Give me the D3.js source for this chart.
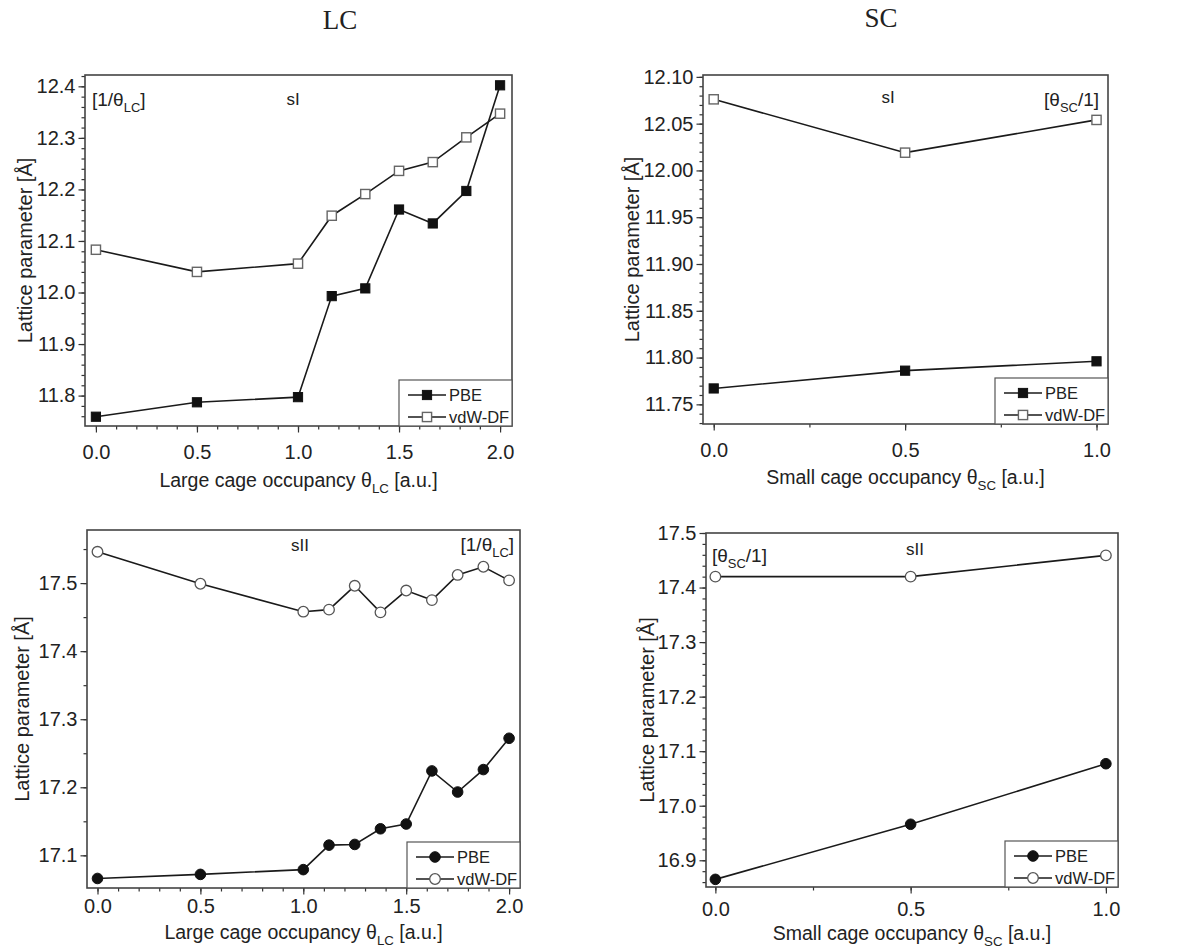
<!DOCTYPE html>
<html>
<head>
<meta charset="utf-8">
<script src="https://cdn.jsdelivr.net/npm/d3@7"></script>
<style>
  body { margin: 0; background: #fff; }
  svg { display: block; }
  text { font-family: "Liberation Sans", Arial, sans-serif; fill: #222; }
</style>
</head>
<body>
<svg id="chart" width="1203" height="952"></svg>
<script>
// sI, large cage occupancy
const xLC_sI = [0, 0.5, 1.0, 1.167, 1.333, 1.5, 1.667, 1.833, 2.0];
const pbeLC_sI = [11.759, 11.787, 11.797, 11.993, 12.008, 12.161, 12.134, 12.197, 12.402];
const vdwLC_sI = [12.083, 12.040, 12.056, 12.149, 12.191, 12.236, 12.253, 12.301, 12.347];

// sI, small cage occupancy
const xSC = [0, 0.5, 1.0];
const pbeSC_sI = [11.767, 11.786, 11.796];
const vdwSC_sI = [12.076, 12.019, 12.054];

// sII, large cage occupancy
const xLC_sII = [0, 0.5, 1.0, 1.125, 1.25, 1.375, 1.5, 1.625, 1.75, 1.875, 2.0];
const pbeLC_sII = [17.066, 17.072, 17.079, 17.115, 17.116, 17.139, 17.146, 17.224, 17.193, 17.226, 17.272];
const vdwLC_sII = [17.546, 17.499, 17.458, 17.461, 17.496, 17.457, 17.489, 17.475, 17.512, 17.524, 17.504];

// sII, small cage occupancy
const pbeSC_sII = [16.865, 16.966, 17.077];
const vdwSC_sII = [17.420, 17.420, 17.459];

// tick labels
const xTicksLC = [0, 0.5, 1.0, 1.5, 2.0];
const xTicksSC = [0, 0.5, 1.0];
const yTicks1 = [11.8, 11.9, 12.0, 12.1, 12.2, 12.3, 12.4];
const yTicks2 = [11.75, 11.80, 11.85, 11.90, 11.95, 12.00, 12.05, 12.10];
const yTicks3 = [17.1, 17.2, 17.3, 17.4, 17.5];
const yTicks4 = [16.9, 17.0, 17.1, 17.2, 17.3, 17.4, 17.5];

const seriesNames = ["PBE", "vdW-DF"];

const svg = d3.select("#chart");

// column headings
svg.append("text").attr("x", 340).attr("y", 29)
    .attr("text-anchor", "middle")
    .style("font-family", "'Liberation Serif', 'Times New Roman', serif")
    .style("font-size", "27px").text("LC");
svg.append("text").attr("x", 881).attr("y", 27)
    .attr("text-anchor", "middle")
    .style("font-family", "'Liberation Serif', 'Times New Roman', serif")
    .style("font-size", "27px").text("SC");

const panels = [
    {
        box: {left: 85, top: 75, right: 512, bottom: 426},
        xDomain: [-0.054, 2.059], yDomain: [11.741, 12.422],
        xs: xLC_sI, pbe: pbeLC_sI, vdw: vdwLC_sI,
        xTicks: xTicksLC, xMinor: 0.1, yTicks: yTicks1, yMinor: 0.02, yFmt: ".1f",
        marker: "square",
        xLabel: ["Large cage occupancy θ", "LC", " [a.u.]"], xLabelY: 487, tickPad: 12,
        yLabelX: 32,
        notes: [
            {x: 92, y: 106, anchor: "start", parts: ["[1/θ", "LC", "]"]},
            {x: 293, y: 105, anchor: "middle", parts: ["sI"], small: true}
        ]
    },
    {
        box: {left: 703, top: 75, right: 1108, bottom: 424},
        xDomain: [-0.028, 1.03], yDomain: [11.729, 12.102],
        xs: xSC, pbe: pbeSC_sI, vdw: vdwSC_sI,
        xTicks: xTicksSC, xMinor: 0.25, yTicks: yTicks2, yMinor: 0.01, yFmt: ".2f",
        marker: "square",
        xLabel: ["Small cage occupancy θ", "SC", " [a.u.]"], xLabelY: 484, tickPad: 12,
        yLabelX: 639,
        notes: [
            {x: 888, y: 103, anchor: "middle", parts: ["sI"], small: true},
            {x: 1099, y: 106, anchor: "end", parts: ["[θ", "SC", "/1]"]}
        ]
    },
    {
        box: {left: 87, top: 530, right: 520, bottom: 888},
        xDomain: [-0.051, 2.053], yDomain: [17.052, 17.578],
        xs: xLC_sII, pbe: pbeLC_sII, vdw: vdwLC_sII,
        xTicks: xTicksLC, xMinor: 0.1, yTicks: yTicks3, yMinor: 0.05, yFmt: ".1f",
        marker: "circle",
        xLabel: ["Large cage occupancy θ", "LC", " [a.u.]"], xLabelY: 939, tickPad: 4,
        yLabelX: 29,
        notes: [
            {x: 300, y: 551, anchor: "middle", parts: ["sII"], small: true},
            {x: 514, y: 551, anchor: "end", parts: ["[1/θ", "LC", "]"]}
        ]
    },
    {
        box: {left: 706, top: 533, right: 1118, bottom: 887},
        xDomain: [-0.024, 1.031], yDomain: [16.851, 17.5],
        xs: xSC, pbe: pbeSC_sII, vdw: vdwSC_sII,
        xTicks: xTicksSC, xMinor: 0.25, yTicks: yTicks4, yMinor: 0.02, yFmt: ".1f",
        marker: "circle",
        xLabel: ["Small cage occupancy θ", "SC", " [a.u.]"], xLabelY: 940, tickPad: 8,
        yLabelX: 654,
        notes: [
            {x: 712, y: 562, anchor: "start", parts: ["[θ", "SC", "/1]"]},
            {x: 915, y: 555, anchor: "middle", parts: ["sII"], small: true}
        ]
    }
];

// text with a subscript in the middle part
function subText(sel, parts, size) {
    parts.forEach((p, i) => {
        const t = sel.append("tspan").text(p);
        if (i === 1) t.style("font-size", (size * 0.68) + "px").attr("dy", size * 0.3);
        if (i === 2) t.attr("dy", -size * 0.3);
    });
}

function drawMarker(g, type, cx, cy, filled) {
    if (type === "square") {
        g.append("rect")
            .attr("x", cx - 4.6).attr("y", cy - 4.6)
            .attr("width", 9.2).attr("height", 9.2)
            .attr("fill", filled ? "#111" : "#fff")
            .attr("stroke", filled ? "#111" : "#666")
            .attr("stroke-width", filled ? 1 : 1.4);
    } else {
        g.append("circle")
            .attr("cx", cx).attr("cy", cy).attr("r", 5.3)
            .attr("fill", filled ? "#111" : "#fff")
            .attr("stroke", filled ? "#111" : "#555")
            .attr("stroke-width", filled ? 1 : 1.3);
    }
}

panels.forEach(p => {
    const b = p.box;
    const x = d3.scaleLinear().domain(p.xDomain).range([b.left, b.right]);
    const y = d3.scaleLinear().domain(p.yDomain).range([b.bottom, b.top]);

    const g = svg.append("g");

    // minor ticks
    const xMinorVals = d3.range(0, p.xDomain[1], p.xMinor).filter(v => v >= 0);
    const yMinorVals = d3.range(Math.ceil(p.yDomain[0] / p.yMinor) * p.yMinor, p.yDomain[1], p.yMinor);

    g.append("g")
        .attr("transform", `translate(0,${b.bottom})`)
        .call(d3.axisBottom(x).tickValues(xMinorVals).tickSize(3.5).tickFormat(""))
        .call(a => a.select(".domain").remove());
    g.append("g")
        .attr("transform", `translate(${b.left},0)`)
        .call(d3.axisLeft(y).tickValues(yMinorVals).tickSize(3.5).tickFormat(""))
        .call(a => a.select(".domain").remove());

    // major ticks
    const xAxis = g.append("g")
        .attr("transform", `translate(0,${b.bottom})`)
        .call(d3.axisBottom(x).tickValues(p.xTicks).tickSize(6.5).tickPadding(p.tickPad).tickFormat(d3.format(".1f")));
    xAxis.select(".domain").remove();
    const yAxis = g.append("g")
        .attr("transform", `translate(${b.left},0)`)
        .call(d3.axisLeft(y).tickValues(p.yTicks).tickSize(6.5).tickPadding(3).tickFormat(d3.format(p.yFmt)));
    yAxis.select(".domain").remove();

    g.selectAll(".tick line").attr("stroke", "#333").attr("stroke-width", 1.2);
    g.selectAll(".tick text").style("font-size", "20px").attr("fill", "#222")
        .style("font-family", "'Liberation Sans', Arial, sans-serif");

    // frame
    g.append("rect")
        .attr("x", b.left).attr("y", b.top)
        .attr("width", b.right - b.left).attr("height", b.bottom - b.top)
        .attr("fill", "none").attr("stroke", "#444").attr("stroke-width", 1.6);

    // series
    const line = d3.line().x(d => x(d[0])).y(d => y(d[1]));
    [[p.vdw, false], [p.pbe, true]].forEach(([vals, filled]) => {
        const pts = p.xs.map((v, i) => [v, vals[i]]);
        g.append("path").datum(pts)
            .attr("d", line).attr("fill", "none")
            .attr("stroke", "#1a1a1a").attr("stroke-width", 1.6);
        pts.forEach(d => drawMarker(g, p.marker, x(d[0]), y(d[1]), filled));
    });

    // axis labels
    const xl = g.append("text")
        .attr("x", (b.left + b.right) / 2).attr("y", p.xLabelY)
        .attr("text-anchor", "middle").style("font-size", "19.5px");
    subText(xl, p.xLabel, 19.5);

    g.append("text")
        .attr("transform", `translate(${p.yLabelX},${(b.top + b.bottom) / 2}) rotate(-90)`)
        .attr("text-anchor", "middle").style("font-size", "20px")
        .text("Lattice parameter [Å]");

    // annotations
    p.notes.forEach(n => {
        const t = g.append("text").attr("x", n.x).attr("y", n.y)
            .attr("text-anchor", n.anchor)
            .style("font-size", n.small ? "17px" : "19px");
        if (n.parts.length === 1) t.text(n.parts[0]);
        else subText(t, n.parts, 19);
    });

    // legend
    const lw = 113, lh = 46;
    const lx = b.right - lw, ly = b.bottom - lh;
    g.append("rect")
        .attr("x", lx).attr("y", ly).attr("width", lw).attr("height", lh)
        .attr("fill", "#fff").attr("stroke", "#555").attr("stroke-width", 1.2);
    seriesNames.forEach((name, i) => {
        const ry = ly + 15 + i * 22;
        g.append("line")
            .attr("x1", lx + 9).attr("x2", lx + 47)
            .attr("y1", ry).attr("y2", ry)
            .attr("stroke", "#1a1a1a").attr("stroke-width", 1.5);
        drawMarker(g, p.marker, lx + 28, ry, i === 0);
        g.append("text").attr("x", lx + 50).attr("y", ry + 6)
            .style("font-size", "16.5px").text(name);
    });
});
</script>
</body>
</html>
